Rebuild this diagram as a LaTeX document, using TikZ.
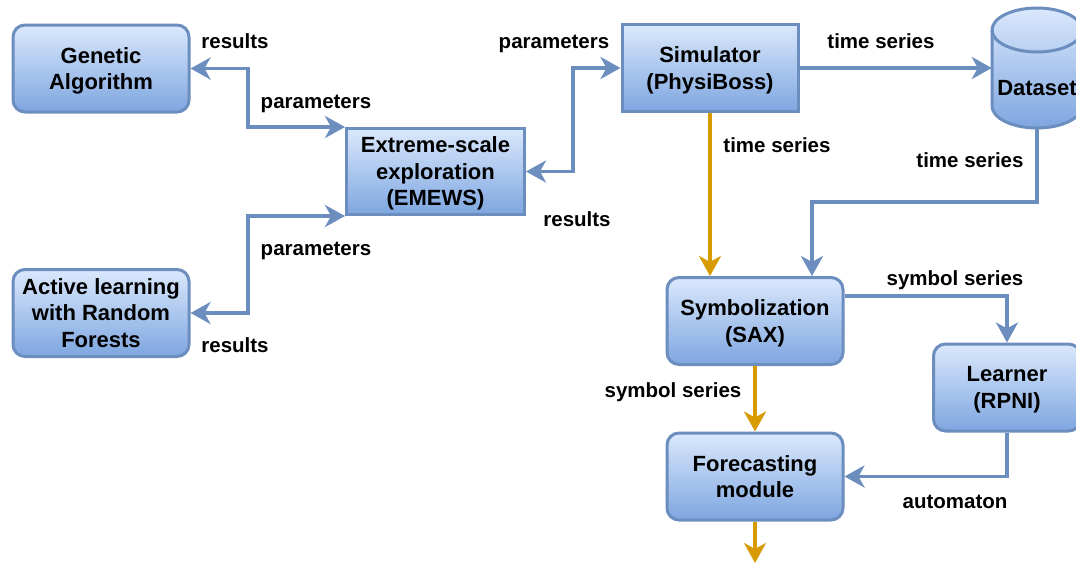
\documentclass[tikz,border=0pt]{standalone}
\usepackage{fontspec}
\setmainfont{Liberation Sans}
\usetikzlibrary{arrows.meta,calc}
\definecolor{bTop}{HTML}{DAE8FC}
\definecolor{bBot}{HTML}{7EA6E0}
\definecolor{bLine}{HTML}{6C8EBF}
\definecolor{oLine}{HTML}{D79B00}
\newcommand\ndfont{\fontsize{22}{26.5}\selectfont\bfseries}
\newcommand\lbfont{\fontsize{20.5}{24}\selectfont\bfseries}
\tikzset{
  box/.style={draw=bLine, line width=3pt, top color=bTop, bottom color=bBot,
    minimum width=176pt, minimum height=87pt, align=center, font=\ndfont,
    inner sep=0pt, text=black, text depth=0pt},
  rbox/.style={box, rounded corners=12pt},
  lbl/.style={font=\lbfont, text height=15pt, text depth=4pt, inner sep=0pt, text=black},
  tipa/.tip={Stealth[length=20pt,width=22pt,inset=6pt]},
  conn/.style={draw=bLine, line width=3.5pt, -tipa},
  biconn/.style={draw=bLine, line width=3.5pt, tipa-tipa},
  oconn/.style={draw=oLine, line width=3.5pt, -tipa},
}
\begin{document}
\begin{tikzpicture}[x=1pt,y=-1pt]
\useasboundingbox (0,0) rectangle (1076,565);
\fill[white] (0,0) rectangle (1076,565);

% nodes
\node[rbox] (ga) at (101,68.5) {Genetic\\Algorithm};
\node[rbox] (al) at (101,313) {Active learning\\with Random\\Forests};
\node[box, minimum width=178pt, minimum height=86pt] (em) at (435.5,171.5) {Extreme-scale\\exploration\\(EMEWS)};
\node[box] (sim) at (710,68) {Simulator\\(PhysiBoss)};
\node[rbox] (sax) at (755,321) {Symbolization\\(SAX)};
\node[rbox, minimum width=147pt] (lr) at (1007,387.5) {Learner\\(RPNI)};
\node[rbox] (fc) at (755,476.5) {Forecasting\\module};

% dataset cylinder
\node[minimum width=90pt, minimum height=120pt, inner sep=0pt, font=\ndfont,
      text height=60pt, text depth=6pt] (ds) at (1037,68) {};
\path[top color=bTop, bottom color=bBot, draw=bLine, line width=3pt]
  (992,30) -- (992,106) arc[start angle=180, end angle=0, x radius=45, y radius=22]
  -- (1082,30) arc[start angle=0, end angle=-180, x radius=45, y radius=22] -- cycle;
\draw[bLine, line width=3pt] (992,30) arc[start angle=180, end angle=0, x radius=45, y radius=22];
\node[font=\ndfont, inner sep=0pt, text height=60pt, text depth=6pt] (dstext) at (ds.center) {Dataset};

\coordinate (out) at (755,563);

% connectors
\draw[biconn] (ga.east) -- ++(57.5,0) |- (em.north west);
\draw[biconn] (al.east) -- ++(57.5,0) |- (em.south west);
\draw[biconn] (em.east) -- ++(47,0) |- (sim.west);
\draw[conn] (sim.east) -- (ds.west);
\draw[oconn] (sim.south) -- (sim.south |- sax.north);
\draw[conn] (ds.south) -- ++(0,74) -| ([xshift=57pt]sax.north);
\draw[conn] ([yshift=25pt]sax.east) -| (lr.north);
\draw[oconn] (sax.south) -- (fc.north);
\draw[conn] (lr.south) |- (fc.east);
\draw[oconn] (fc.south) -- (out);

% labels
\node[lbl] (l1) at (235,42.5) {results};
\node[lbl] (l2) at (316,102.5) {parameters};
\node[lbl] (l3) at (316,249.5) {parameters};
\node[lbl] (l4) at (235,346.5) {results};
\node[lbl] (l5) at (554,42.5) {parameters};
\node[lbl] (l6) at (577,220.5) {results};
\node[lbl] (l7) at (881,42.5) {time series};
\node[lbl] (l8) at (777,146.5) {time series};
\node[lbl] (l9) at (970,161.5) {time series};
\node[lbl] (l10) at (955,279.5) {symbol series};
\node[lbl] (l11) at (673,391.5) {symbol series};
\node[lbl] (l12) at (955,502.5) {automaton};
\end{tikzpicture}
\end{document}
